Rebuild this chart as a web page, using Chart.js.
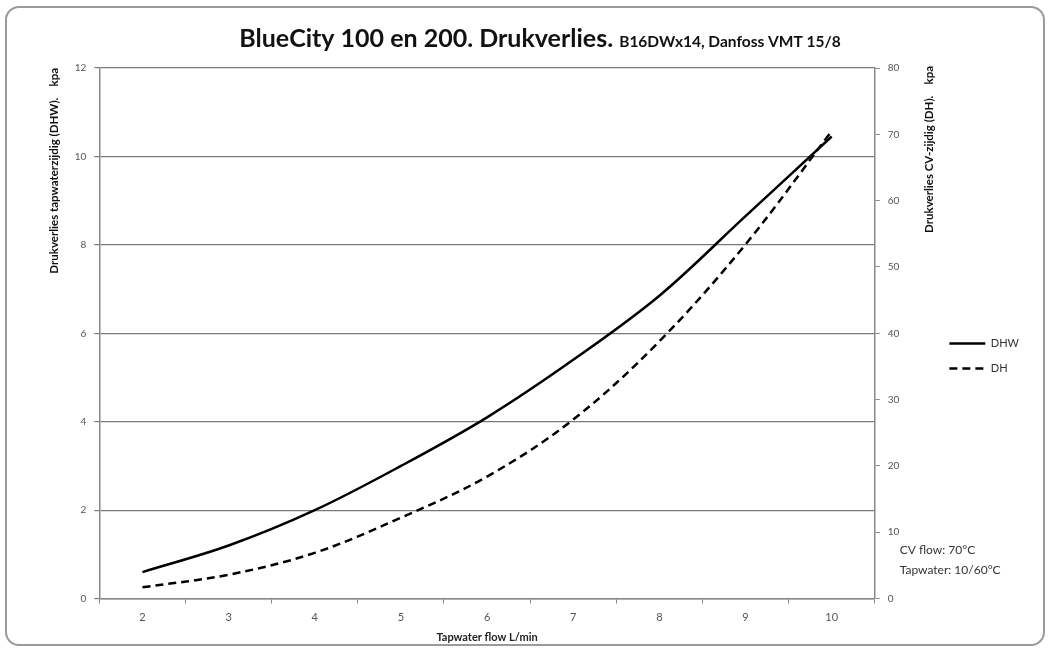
<!DOCTYPE html>
<html>
<head>
<meta charset="utf-8">
<script src="https://cdn.jsdelivr.net/npm/chart.js@4/dist/chart.umd.min.js"></script>
<style>
  body { margin: 0; background: #fff; }
  #frame {
    position: absolute; left: 5px; top: 6px; width: 1040px; height: 640px;
    border: 2px solid #9a9a9a; border-radius: 14px; box-sizing: border-box; overflow: hidden;
  }
  #frame canvas { position: absolute; left: 0; top: 0; }
</style>
</head>
<body>
<div id="frame"><canvas id="myChart" width="1036" height="636"></canvas></div>
<script>
// BlueCity drukverlies chart

const flow = ["2", "3", "4", "5", "6", "7", "8", "9", "10"];
const dhw = [0.6, 1.2, 2.0, 3.0, 4.1, 5.4, 6.85, 8.65, 10.45];
const dh = [1.7, 3.6, 6.9, 12.2, 18.4, 27.0, 38.8, 53.4, 70.5];
const leftTicks = [0, 2, 4, 6, 8, 10, 12];
const rightTicks = [0, 10, 20, 30, 40, 50, 60, 70, 80];

const FONT = "Lato, 'Open Sans', sans-serif";

const extras = {
  id: "extras",
  afterDraw(chart) {
    const ctx = chart.ctx;
    const area = chart.chartArea;
    ctx.save();
    // title, two sizes on one line
    ctx.fillStyle = "#111";
    ctx.textBaseline = "alphabetic";
    const t1 = "BlueCity 100 en 200. Drukverlies. ";
    const t2 = "B16DWx14, Danfoss VMT 15/8";
    ctx.font = "bold 15.5px " + FONT;
    const w2 = ctx.measureText(t2).width;
    ctx.font = "bold 25px " + FONT;
    const w1 = ctx.measureText(t1).width;
    const x0 = 533 - (w1 + w2) / 2;
    ctx.fillText(t1, x0, 39);
    ctx.font = "bold 15.5px " + FONT;
    ctx.fillText(t2, x0 + w1, 39);

    // right axis title, reading upwards like the left one
    ctx.save();
    ctx.translate(area.right + 55, area.top - 2);
    ctx.rotate(-Math.PI / 2);
    ctx.font = "bold 11.5px " + FONT;
    ctx.textAlign = "right";
    ctx.textBaseline = "middle";
    ctx.fillText("Drukverlies CV-zijdig (DH).    kpa", 0, 0);
    ctx.restore();

    // note
    ctx.font = "12px " + FONT;
    ctx.fillStyle = "#333";
    ctx.fillText("CV flow: 70\u00B0C", area.right + 25, 546);
    ctx.fillText("Tapwater: 10/60\u00B0C", area.right + 25, 566);
    ctx.restore();
  }
};

const ctx = document.getElementById("myChart").getContext("2d");
const myChart = new Chart(ctx, {
  type: "line",
  data: {
    labels: flow,
    datasets: [
      {
        label: "DHW",
        data: dhw,
        yAxisID: "y",
        borderColor: "#000",
        backgroundColor: "#000",
        borderWidth: 2.5,
        pointRadius: 0,
        tension: 0.35,
      },
      {
        label: "DH",
        data: dh,
        yAxisID: "y1",
        borderColor: "#000",
        backgroundColor: "#000",
        borderWidth: 2.5,
        borderDash: [8, 5],
        pointRadius: 0,
        tension: 0.35,
      },
    ],
  },
  options: {
    responsive: false,
    animation: false,
    layout: { padding: { left: 36, top: 60, right: 14, bottom: 0 } },
    plugins: {
      title: { display: false },
      tooltip: { enabled: false },
      legend: {
        position: "right",
        labels: {
          usePointStyle: true,
          pointStyle: "line",
          pointStyleWidth: 36,
          boxWidth: 36,
          boxHeight: 4,
          color: "#333",
          font: { family: FONT, size: 11 },
          padding: 14,
          generateLabels: (chart) =>
            chart.data.datasets.map((ds, i) => ({
              text: ds.label,
              datasetIndex: i,
              fillStyle: ds.borderColor,
              strokeStyle: ds.borderColor,
              fontColor: "#333",
              lineWidth: 2.5,
              lineDash: ds.borderDash || [],
              pointStyle: "line",
              hidden: false,
            })),
        },
      },
    },
    scales: {
      x: {
        type: "category",
        offset: true,
        grid: { drawOnChartArea: false, drawTicks: true, tickLength: 5, color: "#888", offset: true },
        border: { color: "#888", width: 1.5 },
        ticks: { color: "#555", font: { family: FONT, size: 11 }, padding: 7 },
        title: { display: true, text: "Tapwater flow L/min", color: "#222", font: { family: FONT, size: 11, weight: "bold" }, padding: { top: 0, bottom: 0 } },
      },
      y: {
        position: "left",
        min: 0,
        max: 12,
        afterBuildTicks: (axis) => { axis.ticks = leftTicks.map((v) => ({ value: v })); },
        grid: { color: "#7a7a7a", lineWidth: 1.2, tickLength: 5 },
        border: { color: "#888", width: 1.5 },
        ticks: { color: "#555", font: { family: FONT, size: 10 }, padding: 8 },
        title: { display: true, align: "end", text: "Drukverlies tapwaterzijdig (DHW).    kpa", color: "#111", font: { family: FONT, size: 11.5, weight: "bold" }, padding: { bottom: 6 } },
      },
      y1: {
        position: "right",
        min: 0,
        max: 80,
        afterBuildTicks: (axis) => { axis.ticks = rightTicks.map((v) => ({ value: v })); },
        grid: { drawOnChartArea: false, color: "#888", tickLength: 5 },
        border: { color: "#888", width: 1.5 },
        ticks: { color: "#555", font: { family: FONT, size: 10 }, padding: 8 },
        afterFit: (axis) => { axis.width += 28; },
      },
    },
  },
  plugins: [extras],
});
</script>
</body>
</html>
